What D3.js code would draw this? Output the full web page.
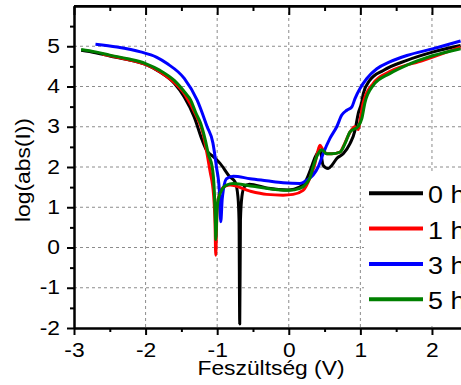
<!DOCTYPE html>
<html>
<head>
<meta charset="utf-8">
<script src="https://cdn.jsdelivr.net/npm/d3@7"></script>
<style>
  body { margin: 0; background: #fff; }
  svg { display: block; }
  text { font-family: "Liberation Sans", Arial, sans-serif; fill: #000; }
</style>
</head>
<body>
<div id="chart"></div>
<script>
// voltage (V), log(abs(I))
const series0h = [
  [-2.9, 4.90], [-2.7, 4.84], [-2.5, 4.76], [-2.25, 4.67], [-2.0, 4.55], [-1.8, 4.36],
  [-1.6, 4.08], [-1.46, 3.74], [-1.32, 3.24], [-1.21, 2.67], [-1.15, 2.42], [-1.05, 2.25],
  [-0.96, 2.09], [-0.82, 1.75], [-0.75, 1.63], [-0.71, 1.26], [-0.695, 0.68], [-0.685, -1.9],
  [-0.675, 0.68], [-0.655, 1.26], [-0.62, 1.51], [-0.55, 1.57], [-0.31, 1.48], [0.0, 1.43],
  [0.15, 1.5], [0.25, 1.7], [0.30, 1.92], [0.37, 2.25], [0.436, 2.42], [0.48, 2.04],
  [0.55, 1.96], [0.60, 2.04], [0.67, 2.21], [0.76, 2.33], [0.855, 2.58], [0.925, 2.91],
  [0.97, 3.33], [1.02, 3.62], [1.04, 3.82], [1.13, 4.15], [1.32, 4.40], [1.65, 4.65],
  [2.02, 4.86], [2.4, 5.02]
];
const series1h = [
  [-2.6, 4.80], [-2.3, 4.69], [-2.0, 4.55], [-1.8, 4.37], [-1.6, 4.10], [-1.45, 3.80],
  [-1.3, 3.3], [-1.2, 2.85], [-1.17, 2.6], [-1.1, 1.9], [-1.05, 1.3], [-1.03, 0.6],
  [-1.02, -0.19], [-1.005, 0.8], [-0.985, 1.2], [-0.95, 1.42], [-0.88, 1.53], [-0.82, 1.55],
  [-0.54, 1.40], [-0.31, 1.32], [-0.08, 1.30], [0.06, 1.32], [0.20, 1.42], [0.30, 1.75],
  [0.36, 2.05], [0.40, 2.35], [0.436, 2.54], [0.47, 2.45], [0.53, 2.33], [0.60, 2.33],
  [0.715, 2.37], [0.785, 2.6], [0.86, 2.88], [0.925, 3.0], [0.97, 2.93], [1.0, 3.2],
  [1.04, 3.6], [1.18, 4.08], [1.41, 4.37], [1.88, 4.65], [2.4, 4.98]
];
const series3h = [
  [-2.70, 5.05], [-2.4, 4.98], [-2.07, 4.86], [-1.85, 4.73], [-1.70, 4.57], [-1.46, 4.20],
  [-1.28, 3.66], [-1.14, 3.0], [-1.06, 2.6], [-1.01, 2.0], [-0.97, 1.42], [-0.95, 0.64],
  [-0.93, 1.2], [-0.915, 1.42], [-0.87, 1.71], [-0.775, 1.77], [-0.54, 1.71], [-0.31, 1.66],
  [-0.08, 1.61], [0.157, 1.59], [0.25, 1.67], [0.34, 1.80], [0.41, 2.0], [0.48, 2.33],
  [0.575, 2.71], [0.67, 3.0], [0.74, 3.29], [0.81, 3.41], [0.88, 3.49], [0.925, 3.70],
  [0.995, 3.95], [1.09, 4.20], [1.23, 4.44], [1.41, 4.61], [1.65, 4.77], [2.02, 4.94],
  [2.4, 5.13]
];
const series5h = [
  [-2.9, 4.92], [-2.7, 4.86], [-2.5, 4.78], [-2.25, 4.69], [-2.0, 4.57], [-1.8, 4.40],
  [-1.6, 4.15], [-1.45, 3.85], [-1.37, 3.66], [-1.3, 3.35], [-1.23, 3.08], [-1.17, 2.7],
  [-1.12, 2.3], [-1.07, 2.0], [-1.04, 1.4], [-1.025, 0.6], [-1.02, 0.2], [-1.0, 1.0],
  [-0.96, 1.34], [-0.87, 1.55], [-0.775, 1.59], [-0.5, 1.52], [-0.31, 1.47], [0.0, 1.42],
  [0.157, 1.47], [0.25, 1.6], [0.30, 1.75], [0.34, 2.0], [0.41, 2.33], [0.46, 2.43],
  [0.53, 2.33], [0.60, 2.33], [0.715, 2.37], [0.785, 2.58], [0.855, 2.87], [0.97, 3.01],
  [1.02, 3.2], [1.064, 3.6], [1.18, 4.03], [1.41, 4.32], [1.65, 4.53], [2.02, 4.77],
  [2.4, 4.94]
];

const seriesNames = ["0 h", "1 h", "3 h", "5 h"];
const seriesColors = ["#000000", "#ff0000", "#0000ff", "#008000"];
const allSeries = [series0h, series1h, series3h, series5h];

const xMajor = [-3, -2, -1, 0, 1, 2];
const xMinor = [-2.5, -1.5, -0.5, 0.5, 1.5];
const yMajor = [-2, -1, 0, 1, 2, 3, 4, 5];
const yMinor = [-1.5, -0.5, 0.5, 1.5, 2.5, 3.5, 4.5, 5.5];
const xGrid = [-2, -1, 0, 1, 2];
const yGrid = [-1, 0, 1, 2, 3, 4, 5];

const width = 461, height = 385;
const plotL = 74, plotR = 460.6, plotT = 6, plotB = 328;
const stretch = "scale(1.17,1)";

const svg = d3.select("#chart").append("svg")
  .attr("width", width)
  .attr("height", height);

const x = d3.scaleLinear().domain([-3, 2.4]).range([plotL, plotR]);
const y = d3.scaleLinear().domain([-2, 6]).range([plotB, plotT]);

svg.append("clipPath").attr("id", "plot-clip")
  .append("rect")
  .attr("x", plotL).attr("y", plotT)
  .attr("width", width - plotL).attr("height", plotB - plotT);

// dashed grid
const grid = svg.append("g")
  .attr("stroke", "#8c8c8c")
  .attr("stroke-width", 1)
  .attr("stroke-dasharray", "3,3");
grid.selectAll(".gx").data(xGrid).join("line")
  .attr("class", "gx")
  .attr("x1", d => x(d)).attr("x2", d => x(d))
  .attr("y1", plotT).attr("y2", plotB);
grid.selectAll(".gy").data(yGrid).join("line")
  .attr("class", "gy")
  .attr("x1", plotL).attr("x2", width)
  .attr("y1", d => y(d)).attr("y2", d => y(d));

// curves
const line = d3.line()
  .curve(d3.curveMonotoneX)
  .x(d => x(d[0]))
  .y(d => y(d[1]));

svg.append("g")
  .attr("clip-path", "url(#plot-clip)")
  .selectAll("path")
  .data(allSeries)
  .join("path")
  .attr("d", line)
  .attr("fill", "none")
  .attr("stroke", (d, i) => seriesColors[i])
  .attr("stroke-width", 3)
  .attr("stroke-linejoin", "round");

// legend
const legend = svg.append("g");
legend.append("rect")
  .attr("x", 364).attr("y", 171)
  .attr("width", width - 364).attr("height", 155)
  .attr("fill", "#fff");
seriesNames.forEach((name, i) => {
  const ly = 193.3 + i * 35.3;
  legend.append("line")
    .attr("x1", 369).attr("x2", 423)
    .attr("y1", ly).attr("y2", ly)
    .attr("stroke", seriesColors[i])
    .attr("stroke-width", 4);
  legend.append("text")
    .attr("transform", `translate(428,${ly + 10}) ${stretch}`)
    .attr("font-size", "23px")
    .text(name);
});

// axes
function styleAxis(g) {
  g.selectAll("path.domain").attr("stroke", "#000").attr("stroke-width", 2);
  g.selectAll(".tick line").attr("stroke", "#000").attr("stroke-width", 2);
}

const xAxis = svg.append("g")
  .attr("transform", `translate(0,${plotB})`)
  .call(d3.axisBottom(x).tickValues(xMajor).tickSize(7).tickSizeOuter(0)
    .tickPadding(8).tickFormat(d => String(d)));
xAxis.call(styleAxis);
xAxis.attr("font-family", null).attr("font-size", null);
xAxis.selectAll("text").attr("font-size", "19.5px").attr("transform", stretch)
  .attr("fill", "#000");

svg.append("g")
  .attr("transform", `translate(0,${plotB})`)
  .call(d3.axisBottom(x).tickValues(xMinor).tickSize(4).tickSizeOuter(0).tickFormat(""))
  .call(styleAxis);

const yAxis = svg.append("g")
  .attr("transform", `translate(${plotL},0)`)
  .call(d3.axisLeft(y).tickValues(yMajor).tickSize(7).tickSizeOuter(0)
    .tickPadding(5).tickFormat(d => String(d)));
yAxis.call(styleAxis);
yAxis.attr("font-family", null).attr("font-size", null);
yAxis.selectAll("text").attr("font-size", "19.5px").attr("transform", stretch)
  .attr("fill", "#000");

svg.append("g")
  .attr("transform", `translate(${plotL},0)`)
  .call(d3.axisLeft(y).tickValues(yMinor).tickSize(4).tickSizeOuter(0).tickFormat(""))
  .call(styleAxis);

// top border with inward ticks
svg.append("g")
  .attr("transform", `translate(0,${plotT})`)
  .call(d3.axisTop(x).tickValues(xMajor).tickSize(-9).tickSizeOuter(0).tickFormat(""))
  .call(styleAxis);
svg.append("g")
  .attr("transform", `translate(0,${plotT})`)
  .call(d3.axisTop(x).tickValues(xMinor).tickSize(-5).tickSizeOuter(0).tickFormat(""))
  .call(styleAxis);
svg.append("line")
  .attr("x1", plotL).attr("x2", width)
  .attr("y1", plotT).attr("y2", plotT)
  .attr("stroke", "#000").attr("stroke-width", 2);

// axis titles
svg.append("text")
  .attr("transform", `translate(271,375) ${stretch}`)
  .attr("text-anchor", "middle")
  .attr("font-size", "19.5px")
  .text("Feszültség (V)");

svg.append("text")
  .attr("transform", `translate(29.5,170) rotate(-90) ${stretch}`)
  .attr("text-anchor", "middle")
  .attr("font-size", "19.5px")
  .text("log(abs(I))");
</script>
</body>
</html>
